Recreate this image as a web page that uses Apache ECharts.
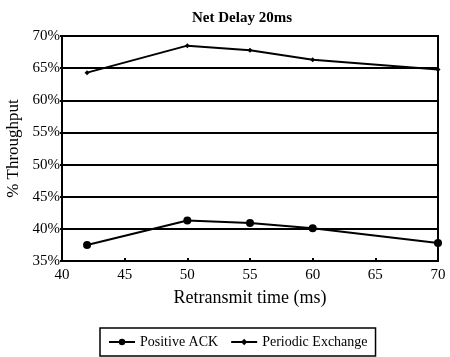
<!DOCTYPE html>
<html>
<head>
<meta charset="utf-8">
<script src="https://cdn.jsdelivr.net/npm/echarts@6/dist/echarts.min.js"></script>
<style>
  html, body { margin: 0; padding: 0; background: #fff; }
  #chart { width: 450px; height: 357px; }
</style>
</head>
<body>
<div id="chart"></div>
<script>
const retransmitTimes = [42, 50, 55, 60, 70];
const positiveAck = [37.5, 41.3, 40.9, 40.1, 37.8];
const periodicExchange = [64.3, 68.5, 67.8, 66.3, 64.8];
const seriesNames = ['Positive ACK', 'Periodic Exchange'];

const font = 'Liberation Serif';
const chart = echarts.init(document.getElementById('chart'));

function pairs(xs, ys) {
  return xs.map((x, i) => [x, ys[i]]);
}

const option = {
  animation: false,
  backgroundColor: '#fff',
  textStyle: { fontFamily: font, color: '#000' },
  title: {
    text: 'Net Delay 20ms',
    left: 187,
    top: 6,
    textStyle: { fontFamily: font, fontSize: 15, fontWeight: 'bold', color: '#000' }
  },
  grid: {
    left: 62, right: 12, top: 36, bottom: 96,
    outerBoundsMode: 'none',
    show: true, borderColor: '#000', borderWidth: 2
  },
  legend: {
    data: seriesNames,
    bottom: 1,
    left: 100,
    borderColor: '#000',
    borderWidth: 1.5,
    padding: [7, 8],
    itemGap: 12,
    itemWidth: 26,
    itemHeight: 8,
    textStyle: { fontFamily: font, fontSize: 14, color: '#000' }
  },
  xAxis: {
    type: 'value',
    min: 40,
    max: 70,
    interval: 5,
    name: 'Retransmit time (ms)',
    nameLocation: 'middle',
    nameGap: 28,
    nameTextStyle: { fontFamily: font, fontSize: 18, color: '#000' },
    axisLine: { lineStyle: { color: '#000', width: 2 } },
    axisTick: { inside: true, length: 3, lineStyle: { color: '#000', width: 2 } },
    axisLabel: { fontFamily: font, fontSize: 15, color: '#000', margin: 7 },
    splitLine: { show: false }
  },
  yAxis: {
    type: 'value',
    min: 35,
    max: 70,
    interval: 5,
    name: '% Throughput',
    nameLocation: 'middle',
    nameGap: 38,
    nameTextStyle: { fontFamily: font, fontSize: 17, color: '#000' },
    axisLine: { show: true, lineStyle: { color: '#000', width: 2 } },
    axisTick: { show: true, length: 2, lineStyle: { color: '#000', width: 2 } },
    axisLabel: { fontFamily: font, fontSize: 15, color: '#000', margin: 2, formatter: '{value}%' },
    splitLine: { show: true, lineStyle: { color: '#000', width: 2 } }
  },
  series: [
    {
      name: seriesNames[0],
      type: 'line',
      data: pairs(retransmitTimes, positiveAck),
      symbol: 'circle',
      symbolSize: 8,
      lineStyle: { color: '#000', width: 2 },
      itemStyle: { color: '#000' }
    },
    {
      name: seriesNames[1],
      type: 'line',
      data: pairs(retransmitTimes, periodicExchange),
      symbol: 'diamond',
      symbolSize: 5,
      lineStyle: { color: '#000', width: 2 },
      itemStyle: { color: '#000' }
    }
  ]
};

chart.setOption(option);
</script>
</body>
</html>
